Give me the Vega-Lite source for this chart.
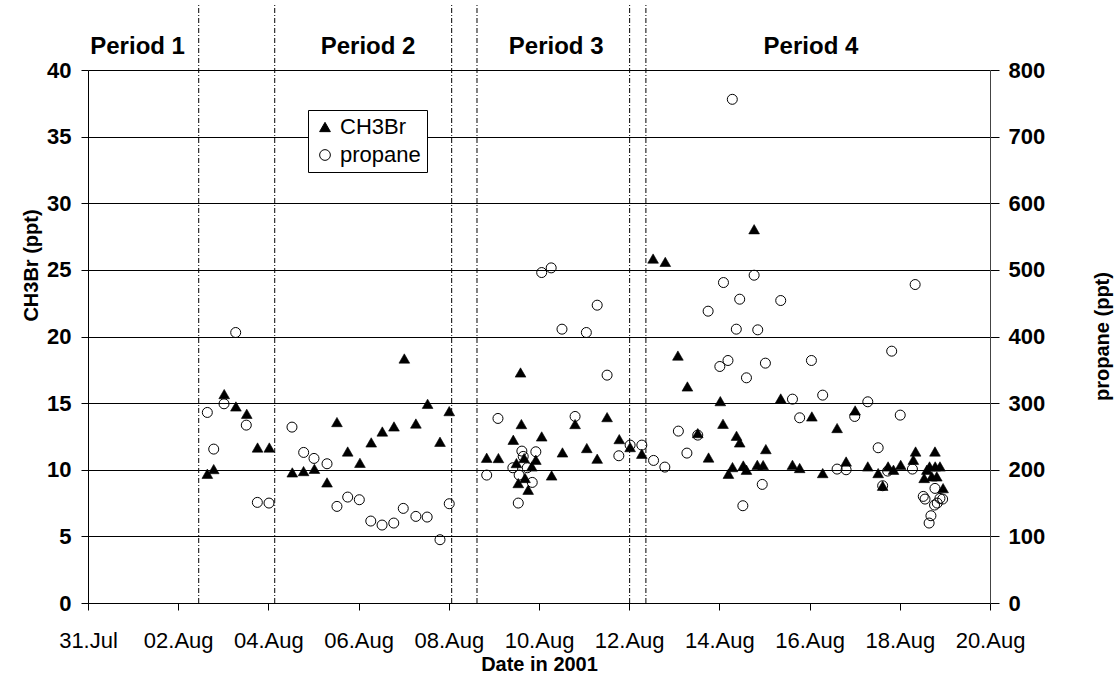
{
  "$schema": "https://vega.github.io/schema/vega-lite/v6.json",
  "width": 902,
  "height": 533,
  "autosize": {"type": "none"},
  "padding": {"left": 88, "top": 70, "right": 124, "bottom": 83},
  "background": "white",
  "config": {
    "font": "Liberation Sans",
    "view": {"stroke": null},
    "axis": {"labelFont": "Liberation Sans", "titleFont": "Liberation Sans", "labelColor": "black", "titleColor": "black", "tickColor": "black", "domainColor": "black"}
  },
  "datasets": {
    "obs": [
      {"time": "2001-08-02T15:30", "series": "CH3Br", "value": 9.7},
      {"time": "2001-08-02T18:54", "series": "CH3Br", "value": 10.05},
      {"time": "2001-08-03T00:29", "series": "CH3Br", "value": 15.68},
      {"time": "2001-08-03T06:43", "series": "CH3Br", "value": 14.75},
      {"time": "2001-08-03T12:29", "series": "CH3Br", "value": 14.2},
      {"time": "2001-08-03T18:14", "series": "CH3Br", "value": 11.67},
      {"time": "2001-08-04T00:29", "series": "CH3Br", "value": 11.67},
      {"time": "2001-08-04T12:43", "series": "CH3Br", "value": 9.8},
      {"time": "2001-08-04T18:43", "series": "CH3Br", "value": 9.9},
      {"time": "2001-08-05T00:29", "series": "CH3Br", "value": 10.07},
      {"time": "2001-08-05T07:12", "series": "CH3Br", "value": 9.05},
      {"time": "2001-08-05T12:29", "series": "CH3Br", "value": 13.58},
      {"time": "2001-08-05T18:12", "series": "CH3Br", "value": 11.37},
      {"time": "2001-08-06T00:43", "series": "CH3Br", "value": 10.52},
      {"time": "2001-08-06T06:43", "series": "CH3Br", "value": 12.05},
      {"time": "2001-08-06T12:37", "series": "CH3Br", "value": 12.87},
      {"time": "2001-08-06T18:50", "series": "CH3Br", "value": 13.25},
      {"time": "2001-08-07T00:20", "series": "CH3Br", "value": 18.35},
      {"time": "2001-08-07T06:29", "series": "CH3Br", "value": 13.47},
      {"time": "2001-08-07T12:43", "series": "CH3Br", "value": 14.95},
      {"time": "2001-08-07T19:19", "series": "CH3Br", "value": 12.1},
      {"time": "2001-08-08T00:14", "series": "CH3Br", "value": 14.4},
      {"time": "2001-08-08T20:10", "series": "CH3Br", "value": 10.9},
      {"time": "2001-08-09T02:24", "series": "CH3Br", "value": 10.88},
      {"time": "2001-08-09T10:19", "series": "CH3Br", "value": 12.25},
      {"time": "2001-08-09T12:00", "series": "CH3Br", "value": 10.5},
      {"time": "2001-08-09T12:58", "series": "CH3Br", "value": 9.0},
      {"time": "2001-08-09T14:10", "series": "CH3Br", "value": 17.3},
      {"time": "2001-08-09T14:38", "series": "CH3Br", "value": 13.43},
      {"time": "2001-08-09T16:05", "series": "CH3Br", "value": 10.88},
      {"time": "2001-08-09T16:34", "series": "CH3Br", "value": 9.38},
      {"time": "2001-08-09T18:14", "series": "CH3Br", "value": 8.5},
      {"time": "2001-08-09T20:10", "series": "CH3Br", "value": 10.25},
      {"time": "2001-08-09T22:19", "series": "CH3Br", "value": 10.75},
      {"time": "2001-08-10T01:26", "series": "CH3Br", "value": 12.5},
      {"time": "2001-08-10T06:43", "series": "CH3Br", "value": 9.57},
      {"time": "2001-08-10T12:29", "series": "CH3Br", "value": 11.3},
      {"time": "2001-08-10T19:12", "series": "CH3Br", "value": 13.43},
      {"time": "2001-08-11T01:26", "series": "CH3Br", "value": 11.63},
      {"time": "2001-08-11T06:58", "series": "CH3Br", "value": 10.83},
      {"time": "2001-08-11T12:14", "series": "CH3Br", "value": 13.95},
      {"time": "2001-08-11T18:43", "series": "CH3Br", "value": 12.3},
      {"time": "2001-08-12T00:29", "series": "CH3Br", "value": 11.7},
      {"time": "2001-08-12T06:43", "series": "CH3Br", "value": 11.2},
      {"time": "2001-08-12T12:43", "series": "CH3Br", "value": 25.85},
      {"time": "2001-08-12T19:12", "series": "CH3Br", "value": 25.6},
      {"time": "2001-08-13T01:55", "series": "CH3Br", "value": 18.57},
      {"time": "2001-08-13T06:58", "series": "CH3Br", "value": 16.25},
      {"time": "2001-08-13T12:29", "series": "CH3Br", "value": 12.75},
      {"time": "2001-08-13T18:14", "series": "CH3Br", "value": 10.92},
      {"time": "2001-08-14T00:29", "series": "CH3Br", "value": 15.15},
      {"time": "2001-08-14T01:55", "series": "CH3Br", "value": 13.45},
      {"time": "2001-08-14T04:48", "series": "CH3Br", "value": 9.7},
      {"time": "2001-08-14T06:58", "series": "CH3Br", "value": 10.2},
      {"time": "2001-08-14T09:07", "series": "CH3Br", "value": 12.55},
      {"time": "2001-08-14T10:48", "series": "CH3Br", "value": 12.05},
      {"time": "2001-08-14T12:43", "series": "CH3Br", "value": 10.32},
      {"time": "2001-08-14T14:24", "series": "CH3Br", "value": 10.0},
      {"time": "2001-08-14T18:29", "series": "CH3Br", "value": 28.05},
      {"time": "2001-08-14T20:10", "series": "CH3Br", "value": 10.37},
      {"time": "2001-08-14T23:17", "series": "CH3Br", "value": 10.35},
      {"time": "2001-08-15T00:43", "series": "CH3Br", "value": 11.55},
      {"time": "2001-08-15T08:38", "series": "CH3Br", "value": 15.35},
      {"time": "2001-08-15T14:53", "series": "CH3Br", "value": 10.37},
      {"time": "2001-08-15T18:43", "series": "CH3Br", "value": 10.13},
      {"time": "2001-08-16T01:12", "series": "CH3Br", "value": 14.0},
      {"time": "2001-08-16T06:58", "series": "CH3Br", "value": 9.75},
      {"time": "2001-08-16T14:38", "series": "CH3Br", "value": 13.13},
      {"time": "2001-08-16T19:26", "series": "CH3Br", "value": 10.62},
      {"time": "2001-08-17T00:14", "series": "CH3Br", "value": 14.45},
      {"time": "2001-08-17T06:58", "series": "CH3Br", "value": 10.25},
      {"time": "2001-08-17T12:29", "series": "CH3Br", "value": 9.75},
      {"time": "2001-08-17T14:53", "series": "CH3Br", "value": 8.8},
      {"time": "2001-08-17T17:46", "series": "CH3Br", "value": 10.25},
      {"time": "2001-08-17T20:38", "series": "CH3Br", "value": 10.0},
      {"time": "2001-08-18T00:29", "series": "CH3Br", "value": 10.37},
      {"time": "2001-08-18T07:12", "series": "CH3Br", "value": 10.75},
      {"time": "2001-08-18T08:24", "series": "CH3Br", "value": 11.37},
      {"time": "2001-08-18T12:58", "series": "CH3Br", "value": 9.38},
      {"time": "2001-08-18T14:24", "series": "CH3Br", "value": 10.0},
      {"time": "2001-08-18T15:50", "series": "CH3Br", "value": 10.25},
      {"time": "2001-08-18T17:02", "series": "CH3Br", "value": 9.5},
      {"time": "2001-08-18T18:43", "series": "CH3Br", "value": 11.37},
      {"time": "2001-08-18T18:50", "series": "CH3Br", "value": 10.25},
      {"time": "2001-08-18T19:41", "series": "CH3Br", "value": 9.5},
      {"time": "2001-08-18T21:22", "series": "CH3Br", "value": 10.25},
      {"time": "2001-08-18T23:02", "series": "CH3Br", "value": 8.62},
      {"time": "2001-08-02T15:30", "series": "propane", "value": 286},
      {"time": "2001-08-02T18:54", "series": "propane", "value": 231},
      {"time": "2001-08-03T00:23", "series": "propane", "value": 299},
      {"time": "2001-08-03T06:36", "series": "propane", "value": 406},
      {"time": "2001-08-03T12:14", "series": "propane", "value": 267},
      {"time": "2001-08-03T18:07", "series": "propane", "value": 151},
      {"time": "2001-08-04T00:19", "series": "propane", "value": 150},
      {"time": "2001-08-04T12:33", "series": "propane", "value": 264},
      {"time": "2001-08-04T18:46", "series": "propane", "value": 226},
      {"time": "2001-08-05T00:16", "series": "propane", "value": 217},
      {"time": "2001-08-05T07:12", "series": "propane", "value": 209},
      {"time": "2001-08-05T12:29", "series": "propane", "value": 145},
      {"time": "2001-08-05T18:12", "series": "propane", "value": 159},
      {"time": "2001-08-06T00:23", "series": "propane", "value": 155},
      {"time": "2001-08-06T06:29", "series": "propane", "value": 123},
      {"time": "2001-08-06T12:29", "series": "propane", "value": 117},
      {"time": "2001-08-06T18:43", "series": "propane", "value": 120},
      {"time": "2001-08-06T23:46", "series": "propane", "value": 142},
      {"time": "2001-08-07T06:29", "series": "propane", "value": 130},
      {"time": "2001-08-07T12:29", "series": "propane", "value": 129},
      {"time": "2001-08-07T19:19", "series": "propane", "value": 95},
      {"time": "2001-08-08T00:14", "series": "propane", "value": 149},
      {"time": "2001-08-08T20:10", "series": "propane", "value": 192},
      {"time": "2001-08-09T02:10", "series": "propane", "value": 277},
      {"time": "2001-08-09T10:05", "series": "propane", "value": 203},
      {"time": "2001-08-09T12:58", "series": "propane", "value": 150},
      {"time": "2001-08-09T13:26", "series": "propane", "value": 192},
      {"time": "2001-08-09T14:53", "series": "propane", "value": 228},
      {"time": "2001-08-09T15:36", "series": "propane", "value": 220},
      {"time": "2001-08-09T17:46", "series": "propane", "value": 203},
      {"time": "2001-08-09T20:24", "series": "propane", "value": 181},
      {"time": "2001-08-09T22:19", "series": "propane", "value": 227},
      {"time": "2001-08-10T01:26", "series": "propane", "value": 496},
      {"time": "2001-08-10T06:29", "series": "propane", "value": 503},
      {"time": "2001-08-10T12:14", "series": "propane", "value": 411},
      {"time": "2001-08-10T19:12", "series": "propane", "value": 280},
      {"time": "2001-08-11T01:12", "series": "propane", "value": 406},
      {"time": "2001-08-11T06:58", "series": "propane", "value": 447},
      {"time": "2001-08-11T12:14", "series": "propane", "value": 342},
      {"time": "2001-08-11T18:29", "series": "propane", "value": 221},
      {"time": "2001-08-12T00:29", "series": "propane", "value": 237},
      {"time": "2001-08-12T06:43", "series": "propane", "value": 237},
      {"time": "2001-08-12T12:58", "series": "propane", "value": 214},
      {"time": "2001-08-12T18:58", "series": "propane", "value": 204},
      {"time": "2001-08-13T02:10", "series": "propane", "value": 258},
      {"time": "2001-08-13T06:43", "series": "propane", "value": 225},
      {"time": "2001-08-13T12:29", "series": "propane", "value": 252},
      {"time": "2001-08-13T18:00", "series": "propane", "value": 438},
      {"time": "2001-08-14T00:14", "series": "propane", "value": 355},
      {"time": "2001-08-14T02:10", "series": "propane", "value": 481},
      {"time": "2001-08-14T04:34", "series": "propane", "value": 364},
      {"time": "2001-08-14T06:52", "series": "propane", "value": 756},
      {"time": "2001-08-14T09:00", "series": "propane", "value": 411},
      {"time": "2001-08-14T10:48", "series": "propane", "value": 456},
      {"time": "2001-08-14T12:29", "series": "propane", "value": 146},
      {"time": "2001-08-14T14:24", "series": "propane", "value": 338},
      {"time": "2001-08-14T18:29", "series": "propane", "value": 492},
      {"time": "2001-08-14T20:24", "series": "propane", "value": 410},
      {"time": "2001-08-14T22:48", "series": "propane", "value": 178},
      {"time": "2001-08-15T00:29", "series": "propane", "value": 360},
      {"time": "2001-08-15T08:38", "series": "propane", "value": 454},
      {"time": "2001-08-15T14:53", "series": "propane", "value": 306},
      {"time": "2001-08-15T18:43", "series": "propane", "value": 278},
      {"time": "2001-08-16T00:58", "series": "propane", "value": 364},
      {"time": "2001-08-16T06:58", "series": "propane", "value": 312},
      {"time": "2001-08-16T14:38", "series": "propane", "value": 201},
      {"time": "2001-08-16T19:26", "series": "propane", "value": 200},
      {"time": "2001-08-17T00:00", "series": "propane", "value": 280},
      {"time": "2001-08-17T06:58", "series": "propane", "value": 302},
      {"time": "2001-08-17T12:29", "series": "propane", "value": 233},
      {"time": "2001-08-17T14:53", "series": "propane", "value": 176},
      {"time": "2001-08-17T17:31", "series": "propane", "value": 198},
      {"time": "2001-08-17T19:41", "series": "propane", "value": 378},
      {"time": "2001-08-18T00:14", "series": "propane", "value": 282},
      {"time": "2001-08-18T06:43", "series": "propane", "value": 201},
      {"time": "2001-08-18T08:10", "series": "propane", "value": 478},
      {"time": "2001-08-18T12:29", "series": "propane", "value": 160},
      {"time": "2001-08-18T13:26", "series": "propane", "value": 156},
      {"time": "2001-08-18T15:36", "series": "propane", "value": 120},
      {"time": "2001-08-18T16:34", "series": "propane", "value": 131},
      {"time": "2001-08-18T18:29", "series": "propane", "value": 147},
      {"time": "2001-08-18T18:43", "series": "propane", "value": 172},
      {"time": "2001-08-18T19:55", "series": "propane", "value": 150},
      {"time": "2001-08-18T21:22", "series": "propane", "value": 157},
      {"time": "2001-08-18T22:48", "series": "propane", "value": 156}
    ],
    "bounds": [
      {"time": "2001-08-02T10:55"},
      {"time": "2001-08-04T03:22"},
      {"time": "2001-08-08T01:32"},
      {"time": "2001-08-08T15:00"},
      {"time": "2001-08-12T00:14"},
      {"time": "2001-08-12T08:53"}
    ],
    "periods": [
      {"time": "2001-08-01T02:24", "label": "Period 1"},
      {"time": "2001-08-06T05:02", "label": "Period 2"},
      {"time": "2001-08-10T09:07", "label": "Period 3"},
      {"time": "2001-08-16T00:43", "label": "Period 4"}
    ]
  },
  "encoding": {
    "x": {
      "field": "time",
      "type": "temporal",
      "scale": {
        "domain": [{"year": 2001, "month": "jul", "date": 31}, {"year": 2001, "month": "aug", "date": 20}],
        "nice": false
      },
      "axis": {
        "values": [
          {"year": 2001, "month": "jul", "date": 31},
          {"year": 2001, "month": "aug", "date": 2},
          {"year": 2001, "month": "aug", "date": 4},
          {"year": 2001, "month": "aug", "date": 6},
          {"year": 2001, "month": "aug", "date": 8},
          {"year": 2001, "month": "aug", "date": 10},
          {"year": 2001, "month": "aug", "date": 12},
          {"year": 2001, "month": "aug", "date": 14},
          {"year": 2001, "month": "aug", "date": 16},
          {"year": 2001, "month": "aug", "date": 18},
          {"year": 2001, "month": "aug", "date": 20}
        ],
        "format": "%d.%b",
        "labelFontSize": 22,
        "labelOverlap": false,
        "labelFlush": false,
        "tickSize": 7,
        "labelPadding": 20,
        "grid": false,
        "title": "Date in 2001",
        "titleFontSize": 20,
        "titleFontWeight": "bold",
        "titleBaseline": "middle",
        "titleY": 61
      }
    }
  },
  "layer": [
    {
      "layer": [
        {
          "data": {"name": "bounds"},
          "mark": {"type": "rule", "color": "black", "strokeWidth": 1, "strokeDash": [5, 2, 1, 2]},
          "encoding": {
            "y": {"datum": 0, "scale": {"domain": [0, 40], "nice": false}},
            "y2": {"datum": 44.9}
          }
        },
        {
          "data": {"name": "periods"},
          "mark": {"type": "text", "fontSize": 24, "fontWeight": "bold", "baseline": "middle", "align": "center", "color": "black"},
          "encoding": {
            "y": {"datum": 41.7, "scale": {"domain": [0, 40], "nice": false}},
            "text": {"field": "label"}
          }
        },
        {
          "data": {"name": "obs"},
          "transform": [{"filter": "datum.series === 'CH3Br'"}],
          "mark": {"type": "point", "filled": true, "opacity": 1, "strokeWidth": 0.6, "size": 115},
          "encoding": {
            "y": {
              "field": "value",
              "type": "quantitative",
              "scale": {"domain": [0, 40], "nice": false},
              "axis": {
                "orient": "left",
                "values": [0, 5, 10, 15, 20, 25, 30, 35, 40],
                "labelFontSize": 22,
                "labelFontWeight": "bold",
                "tickSize": 7,
                "labelPadding": 10,
                "grid": true,
                "gridColor": "black",
                "gridWidth": 1,
                "title": "CH3Br (ppt)",
                "titleFontSize": 20,
                "titleFontWeight": "bold",
                "titleAngle": 270,
                "titleBaseline": "middle",
                "titleAlign": "center",
                "titleX": -57,
                "titleY": 195
              }
            },
            "shape": {
              "field": "series",
              "type": "nominal",
              "scale": {"domain": ["CH3Br", "propane"], "range": ["triangle-up", "circle"]},
              "legend": {"orient": "none", "legendX": 220, "legendY": 40, "title": null, "labelFontSize": 22, "labelColor": "black", "labelFont": "Liberation Sans", "strokeColor": "black", "fillColor": "white", "padding": 6, "rowPadding": 6, "labelOffset": 4, "symbolSize": 115, "symbolStrokeWidth": 1}
            },
            "fill": {
              "field": "series",
              "type": "nominal",
              "scale": {"domain": ["CH3Br", "propane"], "range": ["black", "transparent"]},
              "legend": {"orient": "none", "legendX": 220, "legendY": 40, "title": null, "labelFontSize": 22, "labelColor": "black", "labelFont": "Liberation Sans", "strokeColor": "black", "fillColor": "white", "padding": 6, "rowPadding": 6, "labelOffset": 4, "symbolSize": 115, "symbolStrokeWidth": 1}
            },
            "stroke": {
              "field": "series",
              "type": "nominal",
              "scale": {"domain": ["CH3Br", "propane"], "range": ["black", "black"]},
              "legend": {"orient": "none", "legendX": 220, "legendY": 40, "title": null, "labelFontSize": 22, "labelColor": "black", "labelFont": "Liberation Sans", "strokeColor": "black", "fillColor": "white", "padding": 6, "rowPadding": 6, "labelOffset": 4, "symbolSize": 115, "symbolStrokeWidth": 1}
            }
          }
        }
      ]
    },
    {
      "data": {"name": "obs"},
      "transform": [{"filter": "datum.series === 'propane'"}],
      "mark": {"type": "point", "filled": true, "opacity": 1, "strokeWidth": 1, "size": 100},
      "encoding": {
        "y": {
          "field": "value",
          "type": "quantitative",
          "scale": {"domain": [0, 800], "nice": false},
          "axis": {
            "orient": "right",
            "values": [0, 100, 200, 300, 400, 500, 600, 700, 800],
            "labelFontSize": 22,
            "labelFontWeight": "bold",
            "tickSize": 9,
            "labelPadding": 9,
            "grid": false,
            "domainColor": "#444444",
            "title": "propane (ppt)",
            "titleFontSize": 20,
            "titleFontWeight": "bold",
            "titleAngle": 270,
            "titleBaseline": "middle",
            "titleAlign": "center",
            "titleX": 112,
            "titleY": 266
          }
        },
        "shape": {"field": "series", "type": "nominal", "scale": {"domain": ["CH3Br", "propane"], "range": ["triangle-up", "circle"]}},
        "fill": {"field": "series", "type": "nominal", "scale": {"domain": ["CH3Br", "propane"], "range": ["black", "transparent"]}},
        "stroke": {"field": "series", "type": "nominal", "scale": {"domain": ["CH3Br", "propane"], "range": ["black", "black"]}}
      }
    }
  ],
  "resolve": {"scale": {"y": "independent"}}
}
